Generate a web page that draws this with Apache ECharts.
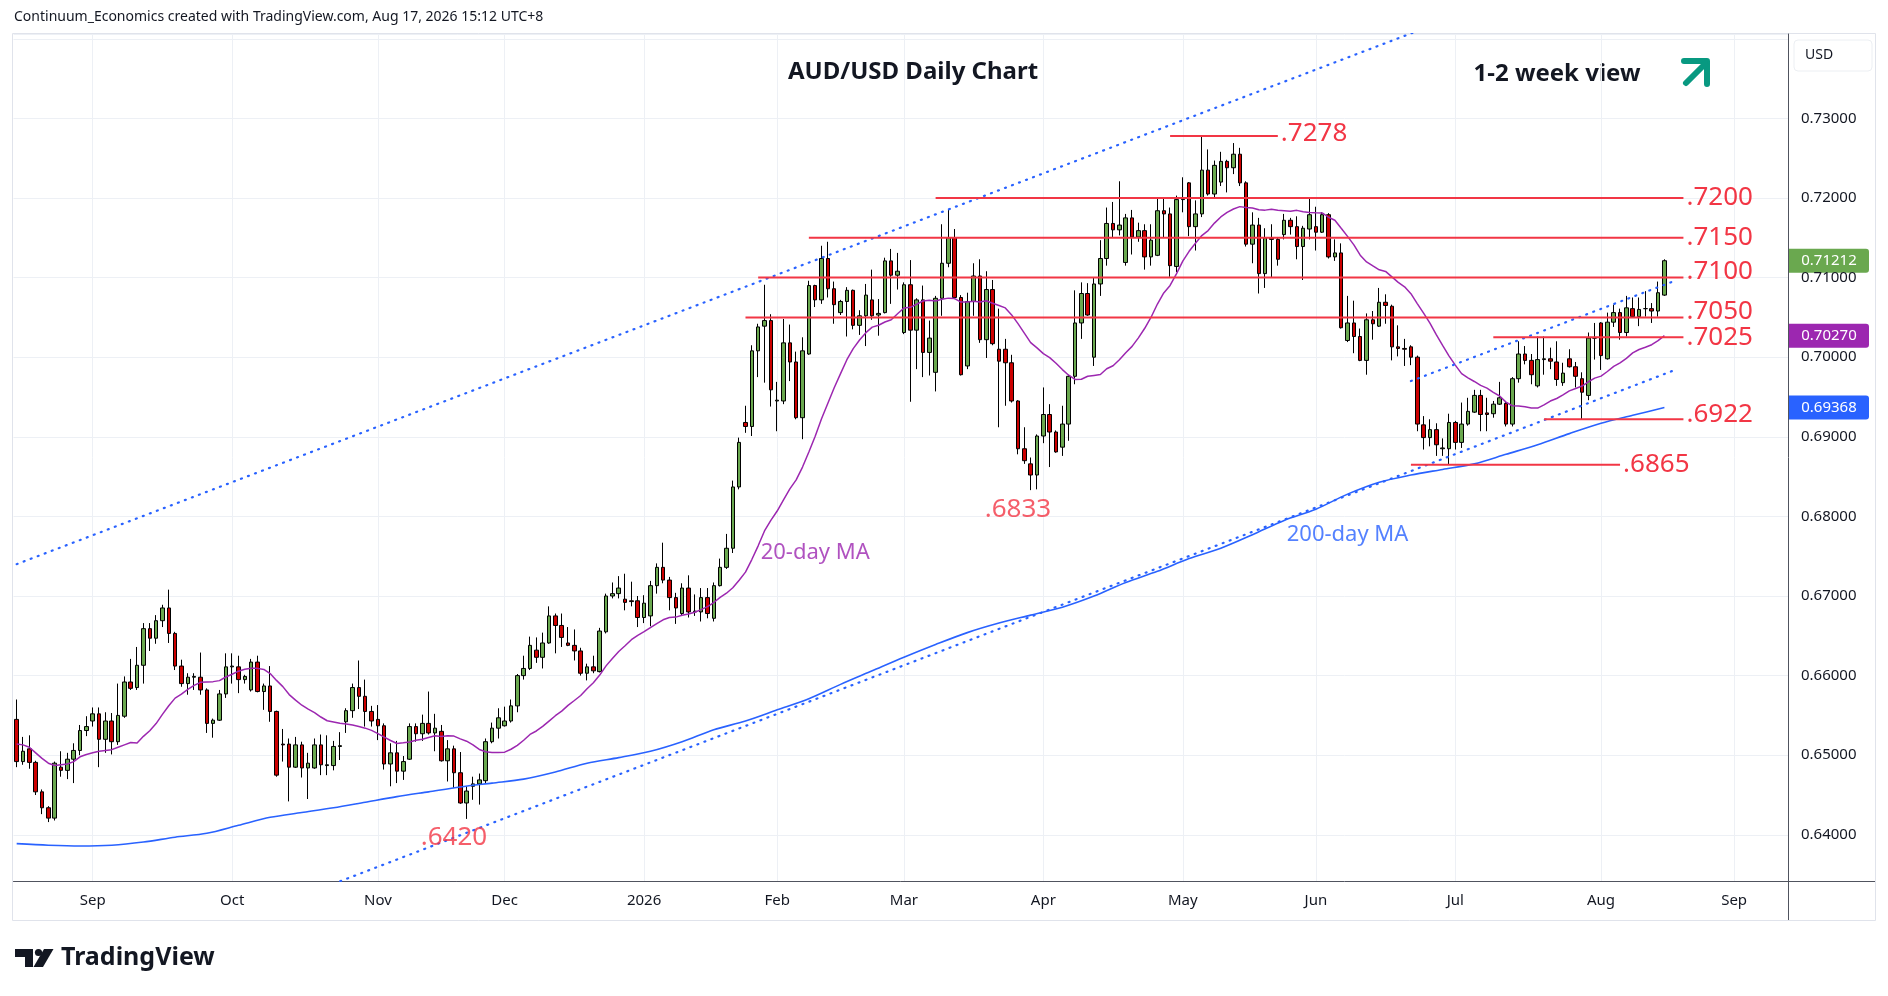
<!DOCTYPE html>
<html>
<head>
<meta charset="utf-8">
<title>AUD/USD Daily Chart</title>
<script src="https://cdn.jsdelivr.net/npm/echarts@6/dist/echarts.min.js"></script>
<style>
  html, body { margin: 0; padding: 0; background: #ffffff; }
  #box { width: 1888px; height: 996px; }
</style>
</head>
<body>
<div id="box"></div>
<script>
/* AUD/USD daily candles, Aug 2025 - Aug 2026 */

// trading sessions: weekdays from the first bar, no bars on these holidays
var startDay = '2025-08-14';
var sessionCount = 280;          // 261 bars + empty sessions to the right edge
var holidays = ['2025-12-25', '2026-01-01'];
var monthNames = ['Jan', 'Feb', 'Mar', 'Apr', 'May', 'Jun', 'Jul', 'Aug', 'Sep', 'Oct', 'Nov', 'Dec'];

// daily bars: [open, high, low, close]
var bars = [
  // Aug 2025
  [.6545,.6570,.6485,.6492],[.6492,.6523,.6488,.6505],[.6508,.6525,.6483,.6491],[.6491,.6493,.6450,.6454],
  [.6454,.6457,.6426,.6434],[.6434,.6436,.6416,.6421],[.6421,.6492,.6418,.6490],[.6485,.6505,.6473,.6481],
  [.6481,.6503,.6470,.6495],[.6495,.6515,.6465,.6506],[.6506,.6538,.6500,.6531],[.6531,.6549,.6524,.6536],
  // Sep
  [.6543,.6560,.6536,.6552],[.6552,.6560,.6485,.6520],[.6520,.6554,.6503,.6543],[.6543,.6553,.6501,.6517],
  [.6517,.6590,.6513,.6550],[.6549,.6599,.6547,.6592],[.6592,.6621,.6582,.6584],[.6585,.6636,.6582,.6613],
  [.6613,.6666,.6590,.6659],[.6659,.6666,.6631,.6647],[.6647,.6676,.6640,.6669],[.6669,.6689,.6661,.6685],
  [.6685,.6708,.6641,.6653],[.6653,.6655,.6607,.6612],[.6612,.6620,.6586,.6590],[.6590,.6603,.6576,.6598],
  [.6598,.6603,.6582,.6599],[.6598,.6629,.6576,.6582],[.6582,.6584,.6528,.6540],[.6540,.6546,.6522,.6544],
  [.6544,.6582,.6543,.6577],[.6577,.6628,.6572,.6611],
  // Oct
  [.6611,.6628,.6590,.6612],[.6611,.6625,.6578,.6595],[.6595,.6601,.6590,.6599],[.6582,.6621,.6580,.6617],
  [.6617,.6625,.6579,.6580],[.6580,.6590,.6557,.6587],[.6587,.6612,.6542,.6555],[.6555,.6556,.6473,.6475],
  [.6514,.6533,.6492,.6513],[.6514,.6521,.6442,.6485],[.6485,.6523,.6484,.6513],[.6513,.6517,.6472,.6484],
  [.6484,.6503,.6445,.6490],[.6484,.6521,.6483,.6513],[.6513,.6526,.6475,.6488],[.6487,.6525,.6475,.6488],
  [.6487,.6518,.6481,.6511],[.6511,.6529,.6494,.6512],[.6542,.6559,.6528,.6556],[.6556,.6590,.6547,.6585],
  [.6585,.6619,.6558,.6574],[.6574,.6595,.6536,.6555],[.6555,.6562,.6536,.6543],
  // Nov
  [.6545,.6563,.6519,.6537],[.6537,.6540,.6482,.6489],[.6489,.6515,.6461,.6503],[.6503,.6518,.6465,.6480],
  [.6480,.6499,.6469,.6492],[.6495,.6540,.6494,.6536],[.6536,.6540,.6517,.6527],[.6527,.6551,.6518,.6540],
  [.6540,.6580,.6526,.6528],[.6528,.6552,.6505,.6534],[.6530,.6538,.6492,.6493],[.6493,.6519,.6467,.6508],
  [.6508,.6512,.6459,.6478],[.6478,.6504,.6439,.6440],[.6440,.6461,.6420,.6455],[.6461,.6473,.6444,.6464],
  [.6464,.6477,.6438,.6469],[.6468,.6521,.6465,.6517],[.6517,.6541,.6515,.6534],[.6534,.6559,.6521,.6547],
  // Dec
  [.6537,.6561,.6536,.6543],[.6543,.6570,.6541,.6562],[.6562,.6602,.6554,.6600],[.6600,.6625,.6595,.6609],
  [.6609,.6649,.6607,.6638],[.6632,.6648,.6616,.6623],[.6623,.6654,.6609,.6641],[.6641,.6687,.6640,.6675],
  [.6675,.6678,.6628,.6663],[.6663,.6678,.6636,.6648],[.6641,.6661,.6637,.6638],[.6638,.6658,.6619,.6631],
  [.6631,.6635,.6600,.6603],[.6603,.6615,.6594,.6611],[.6611,.6625,.6603,.6606],[.6605,.6660,.6604,.6656],
  [.6655,.6703,.6653,.6700],[.6700,.6717,.6697,.6703],[.6703,.6725,.6697,.6710],[.6696,.6728,.6682,.6692],
  [.6694,.6718,.6687,.6693],[.6694,.6700,.6661,.6673],
  // Jan 2026
  [.6673,.6701,.6666,.6691],[.6675,.6719,.6662,.6713],[.6713,.6741,.6703,.6736],[.6736,.6767,.6716,.6720],
  [.6720,.6724,.6682,.6698],[.6698,.6704,.6665,.6685],[.6678,.6716,.6675,.6710],[.6710,.6726,.6673,.6680],
  [.6680,.6702,.6675,.6681],[.6680,.6710,.6668,.6698],[.6698,.6710,.6672,.6678],[.6672,.6717,.6668,.6713],
  [.6713,.6747,.6712,.6736],[.6736,.6778,.6734,.6760],[.6760,.6845,.6754,.6837],[.6837,.6899,.6834,.6893],
  [.6918,.6939,.6905,.6913],[.6913,.7015,.6901,.7008],[.7008,.7042,.6975,.7038],[.7039,.7091,.6968,.7046],
  [.7046,.7054,.6938,.6959],[.6945,.6969,.6907,.6946],
  // Feb
  [.6945,.7048,.6941,.7018],[.7018,.7041,.6970,.6994],[.6994,.7007,.6922,.6924],[.6924,.7025,.6897,.7008],
  [.7004,.7096,.7003,.7090],[.7090,.7091,.7063,.7072],[.7072,.7140,.7067,.7124],[.7124,.7145,.7075,.7086],
  [.7086,.7095,.7042,.7066],[.7056,.7072,.7053,.7070],[.7070,.7088,.7026,.7084],[.7084,.7085,.7035,.7040],
  [.7040,.7059,.7028,.7052],[.7052,.7092,.7014,.7078],[.7072,.7110,.7047,.7052],[.7053,.7073,.7027,.7055],
  [.7056,.7125,.7055,.7121],[.7121,.7136,.7067,.7103],[.7103,.7131,.7085,.7108],[.7031,.7094,.7029,.7091],
  // Mar
  [.7091,.7122,.6944,.7034],[.7034,.7074,.6985,.7072],[.7072,.7090,.6975,.7006],[.7006,.7046,.6977,.7024],
  [.6981,.7077,.6957,.7074],[.7074,.7167,.7052,.7118],[.7118,.7186,.7113,.7150],[.7150,.7161,.7073,.7075],
  [.7075,.7078,.6977,.6978],[.6989,.7081,.6985,.7070],[.7070,.7118,.7052,.7102],[.7102,.7123,.7018,.7022],
  [.7022,.7108,.6999,.7085],[.7085,.7097,.7015,.7017],[.7010,.7061,.6912,.6995],[.7010,.7023,.6939,.6993],
  [.6993,.7003,.6943,.6945],[.6945,.6946,.6878,.6885],[.6885,.6912,.6866,.6870],[.6866,.6874,.6833,.6852],
  [.6852,.6903,.6834,.6901],[.6901,.6962,.6892,.6928],
  // Apr
  [.6928,.6941,.6862,.6906],[.6906,.6908,.6880,.6881],[.6887,.6939,.6876,.6916],[.6916,.6978,.6895,.6976],
  [.6976,.7084,.6966,.7043],[.7043,.7094,.7023,.7080],[.7080,.7093,.7052,.7053],[.7000,.7100,.6989,.7092],
  [.7092,.7147,.7077,.7124],[.7124,.7188,.7115,.7168],[.7168,.7195,.7151,.7160],[.7160,.7221,.7153,.7166],
  [.7119,.7180,.7115,.7175],[.7175,.7185,.7129,.7151],[.7151,.7169,.7145,.7159],[.7159,.7167,.7110,.7126],
  [.7126,.7167,.7115,.7147],[.7128,.7199,.7127,.7184],[.7184,.7199,.7150,.7180],[.7180,.7188,.7101,.7115],
  [.7114,.7203,.7107,.7198],[.7198,.7226,.7182,.7199],
  // May
  [.7219,.7220,.7152,.7164],[.7164,.7197,.7134,.7180],[.7180,.7278,.7176,.7235],[.7235,.7261,.7203,.7205],
  [.7205,.7247,.7200,.7241],[.7220,.7258,.7215,.7246],[.7246,.7248,.7207,.7238],[.7238,.7269,.7230,.7255],
  [.7255,.7263,.7215,.7219],[.7219,.7221,.7139,.7142],[.7142,.7182,.7118,.7166],[.7166,.7175,.7080,.7105],
  [.7105,.7162,.7087,.7150],[.7150,.7167,.7100,.7148],[.7148,.7151,.7115,.7123],[.7154,.7180,.7148,.7172],
  [.7172,.7175,.7154,.7164],[.7164,.7177,.7123,.7139],[.7139,.7165,.7097,.7162],[.7161,.7199,.7148,.7179],
  [.7164,.7189,.7134,.7157],
  // Jun
  [.7157,.7182,.7156,.7179],[.7179,.7181,.7124,.7126],[.7126,.7148,.7121,.7131],[.7131,.7143,.7036,.7037],
  [.7021,.7077,.7019,.7043],[.7043,.7071,.7005,.7026],[.7026,.7036,.6995,.6996],[.6996,.7055,.6978,.7047],
  [.7047,.7058,.7022,.7042],[.7039,.7087,.7038,.7069],[.7069,.7079,.7042,.7065],[.7064,.7066,.6996,.7013],
  [.7013,.7040,.7001,.7011],[.7011,.7023,.6989,.7010],[.7013,.7015,.6990,.7000],[.7000,.7002,.6907,.6916],
  [.6915,.6926,.6884,.6899],[.6899,.6922,.6888,.6909],[.6909,.6917,.6876,.6890],[.6885,.6898,.6876,.6886],
  [.6885,.6929,.6865,.6918],[.6918,.6920,.6884,.6893],
  // Jul
  [.6893,.6943,.6886,.6916],[.6916,.6949,.6914,.6932],[.6931,.6959,.6930,.6952],[.6952,.6959,.6907,.6928],
  [.6930,.6949,.6907,.6928],[.6929,.6945,.6924,.6941],[.6941,.6969,.6940,.6949],[.6942,.6945,.6913,.6916],
  [.6916,.6975,.6913,.6973],[.6973,.7020,.6968,.7004],[.7004,.7014,.6991,.6996],[.6996,.7004,.6966,.6978],
  [.6964,.7026,.6962,.6997],[.6997,.7026,.6978,.6998],[.6998,.7012,.6985,.6995],[.6994,.7020,.6964,.6972],
  [.6968,.6993,.6964,.6980],[.6998,.7010,.6987,.6988],[.6988,.6994,.6962,.6976],[.6973,.6981,.6922,.6956],
  [.6952,.7031,.6946,.7024],[.7024,.7043,.6997,.7024],[.7043,.7044,.6984,.7002],
  // Aug 2026
  [.6998,.7056,.6997,.7044],[.7044,.7066,.7038,.7056],[.7056,.7061,.7022,.7031],[.7031,.7077,.7026,.7062],
  [.7061,.7075,.7050,.7051],[.7051,.7075,.7039,.7060],[.7061,.7083,.7051,.7061],[.7061,.7068,.7043,.7058],
  [.7058,.7095,.7051,.7081],[.7078,.7123,.7077,.71212]
];

// 20-day MA for the first 19 bars (their earlier closes are off the chart)
var ma20Head = [.6514,.6513,.6510,.6503,.6496,.6490,.6487,.6488,.6489,.6492,
                .6498,.6501,.6503,.6505,.6506,.6507,.6510,.6513,.6516];

// 200-day MA every 5th session
var ma200Step = 5;
var ma200 = [
  .6389,.6387,.6386,.6387,.6391,.6397,.6402,.6412,.6422,.6428,
  .6434,.6441,.6448,.6454,.6460,.6465,.6470,.6479,.6490,.6497,
  .6505,.6517,.6532,.6543,.6557,.6571,.6589,.6606,.6623,.6639,
  .6654,.6666,.6676,.6686,.6700,.6717,.6731,.6747,.6760,.6777,
  .6795,.6809,.6828,.6843,.6852,.6859,.6866,.6878,.6890,.6904,
  .6917,.6927,.69368
];

// horizontal levels: [price, from session, to session, label]
var levels = [
  [0.7278, 182, 199, '.7278'],
  [0.7200, 145, 263, '.7200'],
  [0.7150, 125, 263, '.7150'],
  [0.7100, 117, 263, '.7100'],
  [0.7050, 115, 263, '.7050'],
  [0.7025, 233, 263, '.7025'],
  [0.6922, 241, 263, '.6922'],
  [0.6865, 220, 253, '.6865']
];
// some level tags sit a little above their line
var labelLift = { '.7278': 2, '.7100': 6, '.7050': 6, '.6922': 5 };

// dotted trend channel: [from session, price, to session, price]
var trendLines = [
  [0, 0.6740, 230, 0.7437],
  [40, 0.6308, 262, 0.6985],
  [220, 0.6970, 262, 0.7097]
];

// text notes: [session, price, text, kind]
var notes = [
  [158, 0.6808, '.6833', 'level'],
  [69, 0.6396, '.6420', 'level'],
  [126, 0.6754, '20-day MA', 'ma20'],
  [210, 0.6777, '200-day MA', 'ma200']
];

var FONT = '"Noto Sans", "DejaVu Sans", sans-serif';
var RED = '#f23645', PURPLE = '#9c27b0', BLUE = '#2962ff', UP = '#6aa84f', DOWN = '#cc0000';
var GRIDC = '#edf0f5';

var dom = document.getElementById('box');
var myChart = echarts.init(dom, null, { renderer: 'canvas' });

var days = [];
var d = new Date(startDay + 'T00:00:00Z');
while (days.length < sessionCount) {
  var wd = d.getUTCDay();
  var key = d.toISOString().slice(0, 10);
  if (wd !== 0 && wd !== 6 && holidays.indexOf(key) < 0) days.push(key);
  d.setUTCDate(d.getUTCDate() + 1);
}
function isMonthStart(i) {
  return i > 0 && days[i].slice(5, 7) !== days[i - 1].slice(5, 7);
}

var closes = bars.map(function (b) { return b[3]; });
var ma20 = closes.map(function (c, i) {
  if (i < 19) return ma20Head[i];
  var s = 0;
  for (var k = i - 19; k <= i; k++) s += closes[k];
  return s / 20;
});
var ma200Data = ma200.map(function (v, i) { return [days[i * ma200Step], v]; });

var series = [
  {
    type: 'candlestick',
    name: 'AUDUSD',
    data: bars.map(function (b) { return [b[0], b[3], b[2], b[1]]; }),
    barWidth: 4,
    itemStyle: {
      color: UP, color0: DOWN,
      borderColor: '#000000', borderColor0: '#000000', borderColorDoji: '#000000',
      borderWidth: 1
    },
    z: 2
  },
  {
    type: 'line', name: '20-day MA', data: ma20,
    symbol: 'none', silent: true,
    lineStyle: { color: PURPLE, width: 1.5 },
    z: 3
  },
  {
    type: 'line', name: '200-day MA', data: ma200Data,
    symbol: 'none', silent: true, smooth: 0.3,
    lineStyle: { color: BLUE, width: 1.6 },
    z: 3
  }
];

trendLines.forEach(function (t) {
  series.push({
    type: 'line', data: [[days[t[0]], t[1]], [days[t[2]], t[3]]],
    symbol: 'none', silent: true,
    lineStyle: { color: BLUE, width: 2.2, type: [1, 6.5], cap: 'round' },
    z: 3
  });
});

levels.forEach(function (lv) {
  series.push({
    type: 'line', data: [[days[lv[1]], lv[0]], [days[lv[2]], lv[0]]],
    symbol: 'none', silent: true,
    lineStyle: { color: RED, width: 2 },
    endLabel: {
      show: true, formatter: lv[3], color: RED, fontSize: 26, fontFamily: FONT,
      distance: 3, offset: [0, -(labelLift[lv[3]] || 0)]
    },
    z: 4
  });
});

var noteStyle = {
  level: { color: RED, fontSize: 26 },
  ma20: { color: PURPLE, fontSize: 22 },
  ma200: { color: BLUE, fontSize: 22 }
};
series.push({
  type: 'scatter',
  symbolSize: 0,
  silent: true,
  data: notes.map(function (n) {
    return {
      value: [days[n[0]], n[1]],
      label: {
        show: true, position: 'inside', formatter: n[2],
        color: noteStyle[n[3]].color, fontSize: noteStyle[n[3]].fontSize, fontFamily: FONT
      }
    };
  }),
  z: 5
});

var frameGraphic = [
  { type: 'rect', silent: true, z: -1,
    shape: { x: 12.5, y: 33.5, width: 1863, height: 887 },
    style: { fill: 'none', stroke: '#e0e3eb', lineWidth: 1 } },
  { type: 'line', silent: true,
    shape: { x1: 1788, y1: 881.5, x2: 1875, y2: 881.5 },
    style: { stroke: '#50535e', lineWidth: 1 } },
  { type: 'line', silent: true,
    shape: { x1: 1788.5, y1: 881, x2: 1788.5, y2: 920 },
    style: { stroke: '#50535e', lineWidth: 1 } },
  { type: 'text', silent: true, left: 14, top: 10,
    style: { text: 'Continuum_Economics created with TradingView.com, Aug 17, 2026 15:12 UTC+8',
      fill: '#131722', font: '14px ' + FONT } },
  { type: 'text', silent: true, x: 913, y: 72,
    style: { text: 'AUD/USD Daily Chart', fill: '#131722', font: 'bold 24px ' + FONT,
      align: 'center', verticalAlign: 'middle', textAlign: 'center', textVerticalAlign: 'middle' } },
  { type: 'text', silent: true, x: 1557, y: 74,
    style: { text: '1-2 week view', fill: '#131722', font: 'bold 24px ' + FONT,
      align: 'center', verticalAlign: 'middle', textAlign: 'center', textVerticalAlign: 'middle' } },
  { type: 'polyline', silent: true,
    shape: { points: [[1684, 61], [1707, 61], [1707, 84]] },
    style: { stroke: '#089981', lineWidth: 6, fill: 'none', lineCap: 'round', lineJoin: 'round' } },
  { type: 'line', silent: true,
    shape: { x1: 1686, y1: 83, x2: 1705, y2: 64 },
    style: { stroke: '#089981', lineWidth: 6, lineCap: 'round' } },
  { type: 'rect', silent: true, z: 10,
    shape: { x: 1794, y: 40, width: 78, height: 31, r: 4 },
    style: { fill: '#ffffff', stroke: '#eceff3', lineWidth: 1 } },
  { type: 'text', silent: true, x: 1805, y: 55.5, z: 11,
    style: { text: 'USD', fill: '#131722', font: '14px ' + FONT,
      verticalAlign: 'middle', textVerticalAlign: 'middle' } },
  // TradingView mark
  { type: 'polygon', silent: true,
    shape: { points: [[15, 949], [33, 949], [33, 967], [25, 967], [25, 957], [15, 957]] },
    style: { fill: '#131722' } },
  { type: 'circle', silent: true, shape: { cx: 38.5, cy: 952.5, r: 3.6 },
    style: { fill: '#131722' } },
  { type: 'polygon', silent: true,
    shape: { points: [[44, 949], [53.5, 949], [43, 967], [33.5, 967]] },
    style: { fill: '#131722' } },
  { type: 'text', silent: true, x: 61, y: 958,
    style: { text: 'TradingView', fill: '#131722', font: 'bold 25px ' + FONT,
      verticalAlign: 'middle', textVerticalAlign: 'middle' } }
];

option = {
  animation: false,
  backgroundColor: '#ffffff',
  textStyle: { fontFamily: FONT },
  grid: { left: 13.5, right: 100, top: 34, bottom: 115, containLabel: false },
  xAxis: {
    type: 'category',
    data: days,
    boundaryGap: true,
    axisLine: { show: true, lineStyle: { color: '#50535e', width: 1 } },
    axisTick: { show: false },
    axisLabel: {
      interval: function (i) { return isMonthStart(i); },
      formatter: function (v) {
        var m = parseInt(v.slice(5, 7), 10);
        return m === 1 ? v.slice(0, 4) : monthNames[m - 1];
      },
      color: '#131722', fontSize: 15, margin: 12, fontFamily: FONT
    },
    splitLine: {
      show: true, alignWithLabel: true,
      interval: function (i) { return isMonthStart(i); },
      lineStyle: { color: GRIDC, width: 1 }
    }
  },
  yAxis: {
    type: 'value',
    position: 'right',
    scale: true,
    min: 0.63420,
    max: 0.74060,
    splitNumber: 10,
    minInterval: 0.01,
    maxInterval: 0.01,
    axisLine: { show: true, lineStyle: { color: '#50535e', width: 1 } },
    axisTick: { show: false },
    axisLabel: {
      // the top tick sits under the currency box
      formatter: function (v) { return v > 0.735 ? '' : v.toFixed(5); },
      showMinLabel: false, showMaxLabel: false,
      color: '#131722', fontSize: 15, margin: 13, fontFamily: FONT
    },
    splitLine: { show: true, lineStyle: { color: GRIDC, width: 1 } }
  },
  graphic: frameGraphic,
  series: series
};

if (option && typeof option === 'object') {
  myChart.setOption(option, true);

  // last-value tags on the price scale, placed through the y axis
  var tags = [
    [closes[closes.length - 1], UP],
    [ma20[ma20.length - 1], PURPLE],
    [ma200[ma200.length - 1], BLUE]
  ];
  var tagGraphic = tags.map(function (t) {
    var y = myChart.convertToPixel({ yAxisIndex: 0 }, t[0]);
    return {
      type: 'group', silent: true, z: 20,
      children: [
        { type: 'rect', shape: { x: 1789, y: y - 12, width: 80, height: 24, r: [0, 3, 3, 0] },
          style: { fill: t[1] } },
        { type: 'text', x: 1829, y: y,
          style: { text: t[0].toFixed(5), fill: '#ffffff', font: '15px ' + FONT,
            align: 'center', verticalAlign: 'middle', textAlign: 'center', textVerticalAlign: 'middle' } }
      ]
    };
  });
  myChart.setOption({ graphic: frameGraphic.concat(tagGraphic) });
}
</script>
</body>
</html>
